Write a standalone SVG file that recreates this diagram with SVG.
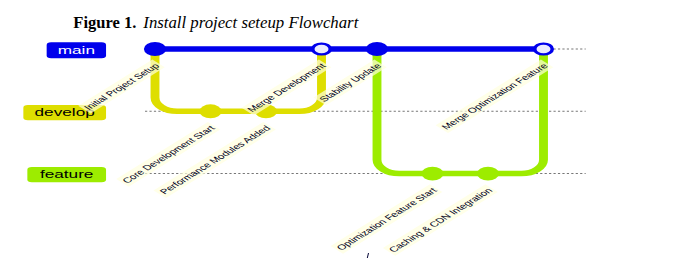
<svg xmlns="http://www.w3.org/2000/svg" width="687" height="274" viewBox="0 0 687 274">
<style>
.title{font-family:"Liberation Serif","Times New Roman",serif;font-size:16px;fill:#000}
.dash{stroke:#777;stroke-width:1.4;stroke-dasharray:2 2;fill:none}
.arrow{stroke-width:8;stroke-linecap:round;fill:none}
.b0{stroke:#0000ec}
.b1{stroke:#dede00}
.b2{stroke:#9dec00}
.c0{fill:#0000ec}
.c1{fill:#dede00}
.c2{fill:#9dec00}
.mi{fill:#ececff}
.lbk{fill:#ffffde;opacity:0.7}
.lbl{font-family:"Liberation Sans",Arial,sans-serif;font-size:10.5px;fill:#000021;text-anchor:end}
.bl{font-family:"Liberation Sans",Arial,sans-serif;font-size:15.5px;text-anchor:middle}
</style>
<text class="title" x="73.3" y="28.3"><tspan font-weight="bold" textLength="63" lengthAdjust="spacingAndGlyphs">Figure 1.</tspan><tspan x="143.3" font-style="italic" textLength="215" lengthAdjust="spacingAndGlyphs">Install project seteup Flowchart</tspan></text>
<g transform="translate(155,49) scale(1.11,0.692)">
  <g id="branch-lines">
    <path class="dash" d="M-9 0H388"/>
    <path class="dash" d="M-9 90H388"/>
    <path class="dash" d="M-9 180H388"/>
  </g>
  <g id="branch-main"><rect x="-97.6" y="-9.7" width="53.5" height="23.1" rx="4" class="c0"/><text class="bl" x="-70.85" y="7.6" fill="#fff">main</text></g>
  <g id="branch-develop"><rect x="-118.6" y="80.9" width="74.5" height="22.1" rx="4" class="c1"/><text class="bl" x="-81.4" y="97.5" fill="#000">develop</text></g>
  <g id="branch-feature"><rect x="-115" y="170.5" width="70.9" height="22.1" rx="4" class="c2"/><text class="bl" x="-79.6" y="187" fill="#000">feature</text></g>
  <g id="connectors">
    <path class="arrow b0" d="M0 0H350"/>
    <path class="arrow b1" d="M0 0V70A20 20 0 0 0 20 90H50"/>
    <path class="arrow b1" d="M50 90H100"/>
    <path class="arrow b1" d="M100 90H130A20 20 0 0 0 150 70V0"/>
    <path class="arrow b2" d="M200 0V160A20 20 0 0 0 220 180H250"/>
    <path class="arrow b2" d="M250 180H300"/>
    <path class="arrow b2" d="M300 180H330A20 20 0 0 0 350 160V0"/>
  </g>
  <g id="c-initial"><circle cx="0" cy="0" r="10" class="c0"/>
    <g transform="translate(4.5,25) rotate(-45)"><rect class="lbk" x="-92.5" y="-11.7" width="94.5" height="15.8"/><text class="lbl">Initial Project Setup</text></g></g>
  <g id="c-core"><circle cx="50" cy="90" r="10" class="c1"/>
    <g transform="translate(54.5,115) rotate(-45)"><rect class="lbk" x="-114.7" y="-11.7" width="116.7" height="15.8"/><text class="lbl">Core Development Start</text></g></g>
  <g id="c-perf"><circle cx="100" cy="90" r="10" class="c1"/>
    <g transform="translate(104.5,115) rotate(-45)"><rect class="lbk" x="-138" y="-11.7" width="140" height="15.8"/><text class="lbl">Performance Modules Added</text></g></g>
  <g id="c-mergedev"><circle cx="150" cy="0" r="9.5" class="c0"/><circle cx="150" cy="0" r="6.3" class="mi"/>
    <g transform="translate(154.5,25) rotate(-45)"><rect class="lbk" x="-96.5" y="-11.7" width="98.5" height="15.8"/><text class="lbl">Merge Development</text></g></g>
  <g id="c-stability"><circle cx="200" cy="0" r="10" class="c0"/>
    <g transform="translate(204.5,25) rotate(-45)"><rect class="lbk" x="-75.5" y="-11.7" width="77.5" height="15.8"/><text class="lbl">Stability Update</text></g></g>
  <g id="c-optstart"><circle cx="250" cy="180" r="10" class="c2"/>
    <g transform="translate(254.5,205) rotate(-45)"><rect class="lbk" x="-124.5" y="-11.7" width="126.5" height="15.8"/><text class="lbl">Optimization Feature Start</text></g></g>
  <g id="c-caching"><circle cx="300" cy="180" r="10" class="c2"/>
    <g transform="translate(304.5,205) rotate(-45)"><rect class="lbk" x="-128.6" y="-11.7" width="130.6" height="15.8"/><text class="lbl">Caching &amp; CDN Integration</text></g></g>
  <g id="c-mergeopt"><circle cx="350" cy="0" r="9.5" class="c0"/><circle cx="350" cy="0" r="6.3" class="mi"/>
    <g transform="translate(354.5,25) rotate(-45)"><rect class="lbk" x="-132.1" y="-11.7" width="134.1" height="15.8"/><text class="lbl">Merge Optimization Feature</text></g></g>
</g>
<path d="M368.5 253L367.3 258" stroke="#000033" stroke-width="1" fill="none"/>
</svg>
